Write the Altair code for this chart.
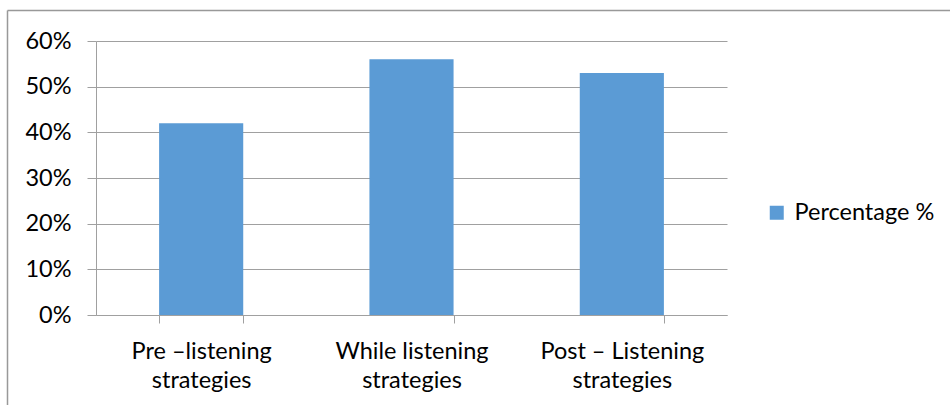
import altair as alt
import pandas as pd

# Survey results: share of respondents using each listening strategy stage
categories = ["Pre –listening\nstrategies", "While listening\nstrategies", "Post – Listening\nstrategies"]
values = [0.42, 0.56, 0.53]
series_name = "Percentage %"
y_ticks = [0, 0.1, 0.2, 0.3, 0.4, 0.5, 0.6]

df = pd.DataFrame({"stage": categories, "share": values, "series": [series_name] * len(categories)})

FONT = "Lato"
FONT_SIZE = 23.5
GRID = "#A0A0A0"

bars = alt.Chart(df).mark_bar(color="#5B9BD5").encode(
    x=alt.X(
        "stage:N",
        sort=categories,
        title=None,
        scale=alt.Scale(paddingInner=0.6, paddingOuter=0.3),
        axis=alt.Axis(
            labelAngle=0,
            labelExpr="split(datum.label, '\\n')",
            labelFontSize=FONT_SIZE,
            labelLineHeight=29.5,
            labelPadding=16,
            tickSize=8,
            tickBand="extent",
            grid=False,
        ),
    ),
    y=alt.Y(
        "share:Q",
        title=None,
        scale=alt.Scale(domain=[0, 0.6], nice=False),
        axis=alt.Axis(values=y_ticks, format=".0%", labelFontSize=FONT_SIZE, tickSize=9, labelPadding=16, grid=True),
    ),
    color=alt.Color(
        "series:N",
        scale=alt.Scale(range=["#5B9BD5"]),
        legend=alt.Legend(
            title=None,
            orient="none",
            legendX=669,
            legendY=160,
            symbolType="square",
            symbolSize=196,
            symbolStrokeWidth=0,
            labelFontSize=FONT_SIZE,
            labelFont=FONT,
            labelColor="#000000",
            labelOffset=6,
        ),
    ),
)

# Outer frame of the chart (top and left edges)
frame = alt.Chart(alt.Data(values=[{}])).mark_rule(color="#999999", strokeWidth=1.5).encode(
    x=alt.value(-88.5), x2=alt.value(900), y=alt.value(-30.5)
) + alt.Chart(alt.Data(values=[{}])).mark_rule(color="#999999", strokeWidth=1.5).encode(
    x=alt.value(-88.5), y=alt.value(-30.5), y2=alt.value(400)
)

chart = (
    alt.layer(bars, frame)
    .properties(
        width=631,
        height=274,
        autosize=alt.AutoSizeParams(type="none"),
        padding={"left": 96, "top": 41, "right": 223, "bottom": 90},
        background="white",
    )
    .configure_view(stroke=None)
    .configure_axis(
        labelFont=FONT,
        labelColor="#000000",
        domainColor=GRID,
        tickColor=GRID,
        gridColor=GRID,
        domainWidth=1,
        tickWidth=1,
        gridWidth=1,
    )
)

chart.save("out.html", embed_options={"renderer": "svg", "actions": False})
